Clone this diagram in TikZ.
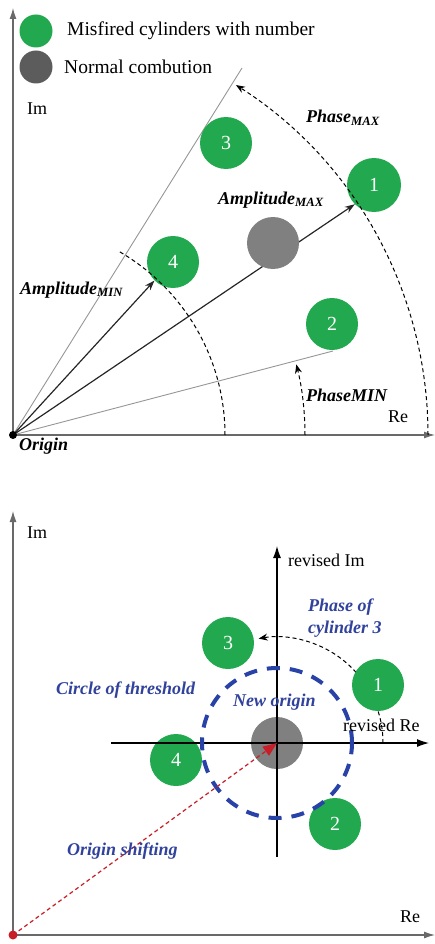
\documentclass[tikz,border=0pt]{standalone}
\usepackage{fontspec}
\setmainfont{Liberation Serif}
\usetikzlibrary{arrows.meta}
\definecolor{cylgreen}{RGB}{34,168,78}
\definecolor{normgray}{RGB}{128,128,128}
\definecolor{leggray}{RGB}{92,92,92}
\definecolor{axisgray}{RGB}{105,105,105}
\definecolor{raygray}{RGB}{150,150,150}
\definecolor{labelblue}{RGB}{48,66,156}
\definecolor{threshblue}{RGB}{40,66,168}
\definecolor{shiftred}{RGB}{200,30,40}
\begin{document}
\begin{tikzpicture}[x=1pt,y=1pt,
  cyl/.style={circle,fill=cylgreen,minimum size=52pt,inner sep=0pt,text=white,font=\fontsize{20}{22}\selectfont},
  norm/.style={circle,fill=normgray,minimum size=52pt,inner sep=0pt},
  axisline/.style={draw=axisgray,line width=1.2pt,-{Latex[length=11pt,width=7pt]}},
  revaxis/.style={draw=black,line width=1.1pt,-{Latex[length=12pt,width=8pt]}},
  thinray/.style={draw=raygray,line width=0.9pt},
  vec/.style={draw=black!85,line width=1.2pt,-{Stealth[length=10pt,width=7pt]}},
  dasharc/.style={draw=black,dash pattern=on 4pt off 3pt,line width=1pt},
  arctip/.style={-{Stealth[length=9pt,width=7pt]}},
  threshold/.style={draw=threshblue,line width=4pt,dash pattern=on 13pt off 10pt},
  shiftarrow/.style={draw=shiftred,line width=1.2pt,dash pattern=on 4pt off 3pt,-{Triangle[length=14pt,width=11pt]}},
  lbl/.style={anchor=west,inner sep=0pt,font=\fontsize{18}{20}\selectfont},
  leglbl/.style={anchor=west,inner sep=0pt,font=\fontsize{19.5}{21}\selectfont},
  bilbl/.style={anchor=west,inner sep=0pt,font=\fontsize{18}{20}\selectfont\bfseries\itshape},
  bluelbl/.style={bilbl,text=labelblue},
]
\useasboundingbox (0,0) rectangle (435,-944);

% ================= TOP DIAGRAM =================
\coordinate (O) at (13,-435);
\coordinate (imtop) at (13,-8);
\coordinate (retip) at (435,-435);
\coordinate (ph1) at (242,-68);
\coordinate (ph2) at (333,-351);

\draw[axisline] (O) -- (imtop);
\draw[axisline] (O) -- (retip);

% legend
\node[cyl,minimum size=33pt] (leg1) at (36,-31) {};
\node[norm,fill=leggray,minimum size=33pt] (leg2) at (36,-67) {};
\node[leglbl] (legt1) at (67,-31) {Misfired cylinders with number};
\node[leglbl] (legt2) at (64,-67) {Normal combution};

% rays
\draw[thinray] (O) -- (ph1);
\draw[thinray] (O) -- (ph2);

% cylinders
\node[cyl,minimum size=54pt] (c1) at (374,-185) {1};
\node[cyl] (c3) at (226,-143) {3};
\node[cyl] (c4) at (173,-262) {4};
\node[cyl] (c2) at (332,-324) {2};

% amplitude vectors
\draw[vec] (O) -- (c1.225);
\draw[vec] (O) -- (c4.225);

\node[norm] (g) at (273,-243) {};

% arcs
\draw[dasharc,arctip] (O) ++(415,0) arc[start angle=0,end angle=57.5,radius=415];
\draw[dasharc] (O) ++(212,0) arc[start angle=0,end angle=60,radius=212];
\draw[dasharc,arctip] (O) ++(292,0) arc[start angle=0,end angle=14,radius=292];

\fill[black] (O) circle[radius=4];

% labels
\node[lbl] (imlab) at (27,-109) {Im};
\node[lbl] (relab) at (388,-417) {Re};
\node[bilbl] (origlab) at (19,-446) {Origin};
\node[bilbl] (phmax) at (306,-118) {Phase\textsubscript{MAX}};
\node[bilbl] (ampmax) at (218,-200) {Amplitude\textsubscript{MAX}};
\node[bilbl] (ampmin) at (20,-290) {Amplitude\textsubscript{MIN}};
\node[bilbl] (phmin) at (306,-395) {PhaseMIN};

% ================= BOTTOM DIAGRAM =================
\coordinate (O2) at (13,-935);
\coordinate (imtop2) at (13,-511);
\coordinate (retip2) at (435,-935);
\coordinate (rimb) at (277,-857);
\coordinate (rimt) at (277,-546);
\coordinate (rreL) at (111,-743);
\coordinate (rreR) at (429,-743);

\draw[axisline] (O2) -- (imtop2);
\draw[axisline] (O2) -- (retip2);

\node[norm] (ng) at (277,-743) {};

% phase of cylinder 3
\draw[dasharc,arctip] (ng.center) ++(106,0) arc[start angle=0,end angle=100,radius=106];

\node[cyl] (c3b) at (228,-643) {3};
\node[cyl] (c1b) at (378,-685) {1};
\node[cyl] (c4b) at (176,-760) {4};
\node[cyl] (c2b) at (335,-824) {2};

\draw[revaxis] (rimb) -- (rimt);
\draw[revaxis] (rreL) -- (rreR);

\draw[threshold] (ng.center) circle[radius=75];

\draw[shiftarrow] (O2) -- (ng.center);
\fill[shiftred] (O2) circle[radius=4.5];

% labels
\node[lbl] (imlab2) at (27,-533) {Im};
\node[lbl] (relab2) at (400,-917) {Re};
\node[lbl] (rimlab) at (288,-560) {revised Im};
\node[lbl] (rrelab) at (343,-725) {revised Re};
\node[bluelbl] (phc1) at (308,-607) {Phase of};
\node[bluelbl] (phc2) at (308,-629) {cylinder 3};
\node[bluelbl] (thrlab) at (56,-690) {Circle of threshold};
\node[bluelbl] (neworig) at (233,-702) {New origin};
\node[bluelbl] (shiftlab) at (67,-851) {Origin shifting};
\end{tikzpicture}
\end{document}
